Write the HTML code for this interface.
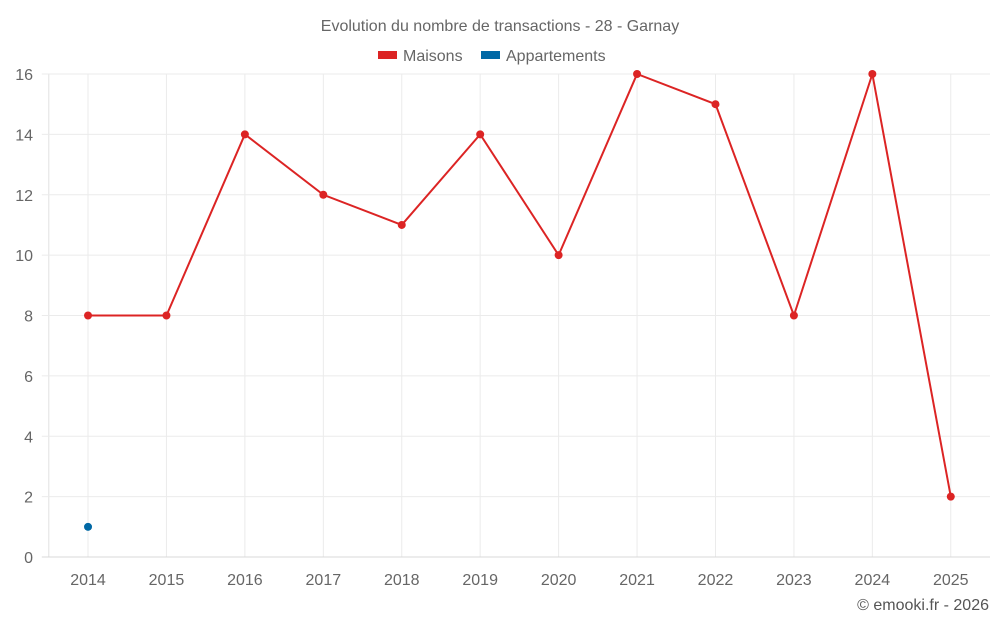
<!DOCTYPE html>
<html><head><meta charset="utf-8"><style>
body{margin:0;background:#fff;font-family:"Liberation Sans",sans-serif}
svg{display:block}
</style></head><body>
<svg id="chart" width="1000" height="625" xmlns="http://www.w3.org/2000/svg">
<text x="500" y="31" text-anchor="middle" font-size="16" fill="#666">Evolution du nombre de transactions - 28 - Garnay</text>
<g>
<g><rect x="378" y="51" width="19" height="8" fill="#dc2424"/><text x="403" y="61" font-size="16" fill="#666">Maisons</text></g>
<g><rect x="481" y="51" width="19" height="8" fill="#0068a5"/><text x="506" y="61" font-size="16" fill="#666">Appartements</text></g>
</g>
<g id="grid"></g>
<g id="axes"></g>
<g id="series"></g>
<text x="989" y="610" text-anchor="end" font-size="16" fill="#555">© emooki.fr - 2026</text>
</svg>
<script>
const categories=["2014","2015","2016","2017","2018","2019","2020","2021","2022","2023","2024","2025"];
const maisons=[8,8,14,12,11,14,10,16,15,8,16,2];
const appartements=[1,null,null,null,null,null,null,null,null,null,null,null];
const yTicks=[0,2,4,6,8,10,12,14,16];
const NS="http://www.w3.org/2000/svg";
const L=48.8,R=990,T=74,B=557,yMax=16;
const bw=(R-L)/categories.length;
const xs=i=>L+bw*(i+0.5);
const ys=v=>B-(v/yMax)*(B-T);
function mk(tag,attrs,parent,text){const e=document.createElementNS(NS,tag);for(const k in attrs)e.setAttribute(k,attrs[k]);if(text!==undefined)e.textContent=text;parent.appendChild(e);return e;}
const grid=document.getElementById('grid'),axes=document.getElementById('axes'),series=document.getElementById('series');
categories.forEach((c,i)=>{
 const l=mk('line',{x1:xs(i),x2:xs(i),y1:T,y2:B,stroke:'#ebebeb','stroke-width':1},grid);
 
 
});
const ax=mk('line',{x1:L,x2:L,y1:T,y2:B,stroke:'#e0e0e0','stroke-width':1},grid);


yTicks.forEach(t=>{
 const l=mk('line',{x1:L-7,x2:R,y1:ys(t),y2:ys(t),stroke:t===0?'#d8d8d8':'#ebebeb','stroke-width':1},grid);
 
 
 const tx=mk('text',{x:33,y:ys(t)+6,'text-anchor':'end','font-size':16,fill:'#666'},axes,String(t));
 
 
});
categories.forEach((c,i)=>{
 const tx=mk('text',{x:xs(i),y:585,'text-anchor':'middle','font-size':16,fill:'#666'},axes,c);
 
 
});
function draw(data,color,name){
 let d='';data.forEach((v,i)=>{if(v==null)return;d+=(d?'L':'M')+xs(i)+' '+ys(v)+' ';});
 const p=mk('path',{d:d,fill:'none',stroke:color,'stroke-width':2},series);
 
 
 data.forEach((v,i)=>{if(v==null)return;
  const c=mk('circle',{cx:xs(i),cy:ys(v),r:4,fill:color},series);
  
  
 });
}
draw(maisons,'#dc2424','maisons');
draw(appartements,'#0068a5','appartements');
</script>
</body></html>
